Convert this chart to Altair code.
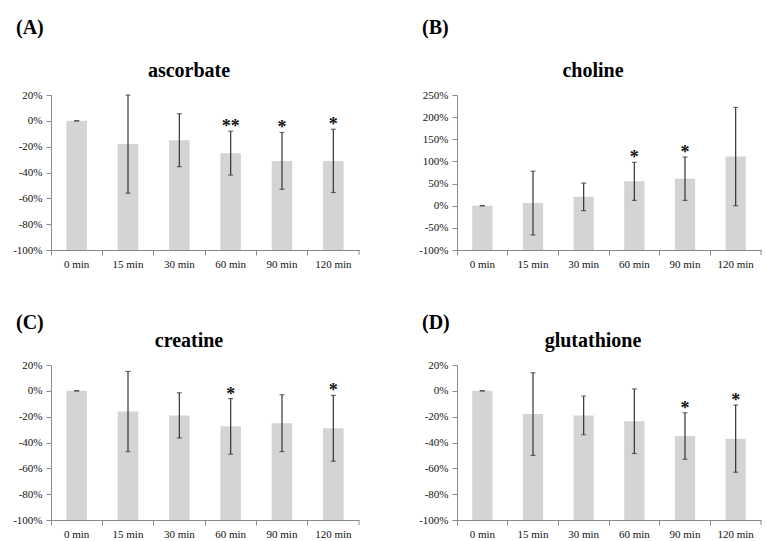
import altair as alt
import pandas as pd

# Time points after treatment
TIMES = ["0 min", "15 min", "30 min", "60 min", "90 min", "120 min"]

# Mean change from baseline (%) and standard deviation for each metabolite
ASCORBATE_MEAN = [0, -18, -15, -25, -31, -31]
ASCORBATE_SD = [0, 38, 20.5, 17, 22, 24.5]
ASCORBATE_SIG = ["", "", "", "**", "*", "*"]

CHOLINE_MEAN = [0, 6, 20, 55, 61, 111]
CHOLINE_SD = [0, 72, 31, 43, 49, 111]
CHOLINE_SIG = ["", "", "", "*", "*", ""]

CREATINE_MEAN = [0, -16, -19, -27.5, -25, -29]
CREATINE_SD = [0, 31, 17.5, 21.5, 22, 25.5]
CREATINE_SIG = ["", "", "", "*", "", "*"]

GLUTATHIONE_MEAN = [0, -18, -19, -23.5, -35, -37]
GLUTATHIONE_SD = [0, 32, 15, 25, 18, 26]
GLUTATHIONE_SIG = ["", "", "", "", "*", "*"]

SERIF = "Liberation Serif"
BAR_GREY = "#d4d4d4"
ERR_COLOR = "#333333"
AXIS_GREY = "#8a8a8a"
PLOT_H = 155


def panel(letter, name, means, sds, sig, y_min, y_max, y_step, plot_w, letter_y):
    df = pd.DataFrame({"time": TIMES, "mean": means, "sd": sds, "sig": sig})
    df["lo"] = df["mean"] - df["sd"]
    df["hi"] = df["mean"] + df["sd"]

    x_axis = alt.Axis(labelAngle=0, bandPosition=0, tickSize=5, labelPadding=3)
    x = alt.X(
        "time:N",
        sort=TIMES,
        title=None,
        scale=alt.Scale(paddingInner=0, paddingOuter=0),
        axis=x_axis,
    )
    y_scale = alt.Scale(domain=[y_min, y_max], nice=False, zero=False)
    y_axis = alt.Axis(
        values=list(range(y_min, y_max + 1, y_step)),
        labelExpr="datum.value + '%'",
        labelOverlap=False,
        grid=False,
        tickSize=5,
        labelPadding=4,
    )

    def y(field):
        return alt.Y(field, scale=y_scale, axis=y_axis, title=None)

    base = alt.Chart(df)
    bars = base.mark_bar(color=BAR_GREY, width=alt.RelativeBandSize(0.4)).encode(
        x=x, y=y("mean:Q"), y2=alt.datum(y_min)
    )
    err = base.mark_rule(color=ERR_COLOR, strokeWidth=1.2).encode(
        x=x, y=y("lo:Q"), y2="hi:Q"
    )
    cap_lo = base.mark_tick(color=ERR_COLOR, size=5, thickness=1.2, orient="horizontal").encode(
        x=x, y=y("lo:Q")
    )
    cap_hi = base.mark_tick(color=ERR_COLOR, size=5, thickness=1.2, orient="horizontal").encode(
        x=x, y=y("hi:Q")
    )
    stars = base.mark_text(
        font=SERIF, fontSize=18, fontWeight="bold", color="#111", baseline="alphabetic", dy=1
    ).encode(x=x, y=y("hi:Q"), text="sig:N")

    # Closing tick at the right end of the category axis
    end_tick = alt.Chart(pd.DataFrame({"edge": [1]})).mark_rule(
        color=AXIS_GREY, strokeWidth=1
    ).encode(x=alt.value(plot_w), y=alt.value(PLOT_H), y2=alt.value(PLOT_H + 5))

    # Panel letter and metabolite name drawn as text marks above the plot area
    heading = pd.DataFrame({"tag": [letter], "name": [name]})
    tag = alt.Chart(heading).mark_text(
        font=SERIF, fontSize=20, fontWeight="bold", color="#000", align="left", baseline="top"
    ).encode(text="tag:N", x=alt.value(-35), y=alt.value(letter_y))
    title = alt.Chart(heading).mark_text(
        font=SERIF, fontSize=20, fontWeight="bold", color="#000", align="center", baseline="alphabetic"
    ).encode(text="name:N", x=alt.value(plot_w / 2 - 16), y=alt.value(-18))

    return alt.layer(bars, err, cap_lo, cap_hi, stars, end_tick, tag, title).properties(
        width=plot_w, height=PLOT_H
    )


a = panel("(A)", "ascorbate", ASCORBATE_MEAN, ASCORBATE_SD, ASCORBATE_SIG, -100, 20, 20, 308, -77)
b = panel("(B)", "choline", CHOLINE_MEAN, CHOLINE_SD, CHOLINE_SIG, -100, 250, 50, 304, -77)
c = panel("(C)", "creatine", CREATINE_MEAN, CREATINE_SD, CREATINE_SIG, -100, 20, 20, 308, -52)
d = panel("(D)", "glutathione", GLUTATHIONE_MEAN, GLUTATHIONE_SD, GLUTATHIONE_SIG, -100, 20, 20, 304, -52)

# One 2x2 grid; with flush bounds the spacing is measured between plot areas
chart = (
    alt.concat(a, b, c, d, columns=2, spacing={"row": 115, "column": 98}, bounds="flush")
    .properties(padding={"left": 12, "top": 18, "right": 4, "bottom": 3})
    .configure_view(stroke=None)
    .configure_axis(
        domainColor=AXIS_GREY,
        tickColor=AXIS_GREY,
        labelFont=SERIF,
        labelFontSize=11,
        labelColor="#111111",
    )
    .configure_axisY(labelOverlap=False)
)

chart.save("out.html", embed_options={"renderer": "svg", "actions": False})
